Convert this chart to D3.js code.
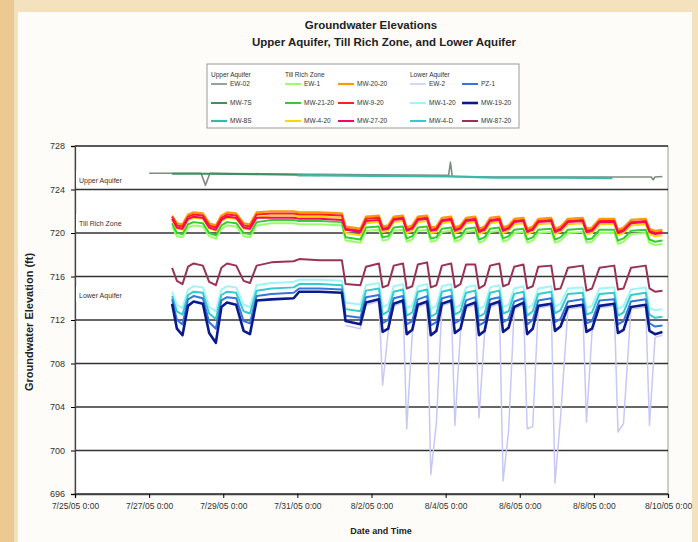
<!DOCTYPE html>
<html>
<head>
<meta charset="utf-8">
<script src="https://cdn.jsdelivr.net/npm/d3@7"></script>
<style>
  body { margin: 0; background: #f4e2bf; }
  svg { display: block; font-family: "Liberation Sans", Arial, sans-serif; }
</style>
</head>
<body>
<div id="viz"></div>
<script>
const width = 698, height = 542;
const plot = { left: 75, right: 668, top: 146, bottom: 494 };

// ---- data (days after 7/25/05 0:00, elevations in ft) ----
const xTickLabels = ["7/25/05 0:00", "7/27/05 0:00", "7/29/05 0:00", "7/31/05 0:00", "8/2/05 0:00",
  "8/4/05 0:00", "8/6/05 0:00", "8/8/05 0:00", "8/10/05 0:00"];
const yTicks = [696, 700, 704, 708, 712, 716, 720, 724, 728];

const days = [2.62, 2.75, 2.90, 3.05, 3.20, 3.45, 3.62, 3.80, 3.95, 4.10, 4.35, 4.55, 4.72, 4.90,
  5.30, 5.90, 6.05, 6.60, 7.20,
  7.30, 7.70, 7.85, 8.20, 8.30, 8.45, 8.60, 8.85, 8.95, 9.10, 9.25, 9.50,
  9.60, 9.75, 9.90, 10.15, 10.25, 10.40, 10.55, 10.80, 10.90, 11.05, 11.20, 11.45,
  11.55, 11.70, 11.85, 12.10, 12.20, 12.35, 12.50, 12.85, 12.95, 13.10, 13.30, 13.70,
  13.80, 13.95, 14.15, 14.55, 14.65, 14.80, 15.00, 15.40, 15.50, 15.65, 15.85];

// Upper Aquifer
const upperDays = [2.00, 2.62, 3.40, 3.52, 3.64, 5.00, 6.00, 6.60, 8.00, 10.08, 10.13, 10.18,
  11.30, 13.00, 14.50, 15.55, 15.60, 15.65, 15.85];
const ew02 = [725.5, 725.5, 725.5, 724.4, 725.5, 725.45, 725.4, 725.4, 725.35, 725.3, 726.5, 725.2,
  725.15, 725.15, 725.15, 725.15, 724.9, 725.15, 725.2];
const mw7s = [null, 725.45, 725.45, 725.45, 725.45, 725.4, 725.35, 725.3, null, null, null, null,
  null, null, null, null, null, null, null];
const mw8s = [null, null, null, null, null, null, 725.3, 725.3, 725.25, 725.2, 725.2, 725.2,
  725.1, 725.1, 725.05, null, null, null, null];

// Till Rich Zone
const tillOrange = [721.6, 720.9, 720.8, 721.7, 721.9, 721.8, 720.9, 720.7, 721.6, 721.9, 721.8, 720.9, 720.8, 721.9,
  722.0, 722.0, 721.9, 721.9, 721.8,
  720.6, 720.4, 721.5, 721.6, 720.6, 720.7, 721.5, 721.6, 720.5, 720.7, 721.5, 721.6,
  720.5, 720.6, 721.4, 721.5, 720.5, 720.7, 721.4, 721.5, 720.4, 720.6, 721.4, 721.5,
  720.5, 720.7, 721.3, 721.4, 720.4, 720.6, 721.3, 721.4, 720.4, 720.6, 721.3, 721.4,
  720.4, 720.5, 721.3, 721.3, 720.3, 720.5, 721.2, 721.3, 720.4, 720.2, 720.3];
const tillRed = [721.5, 720.7, 720.6, 721.5, 721.7, 721.6, 720.7, 720.5, 721.4, 721.7, 721.6, 720.7, 720.6, 721.7,
  721.8, 721.8, 721.7, 721.7, 721.6,
  720.4, 720.2, 721.3, 721.4, 720.4, 720.5, 721.3, 721.4, 720.3, 720.5, 721.3, 721.4,
  720.3, 720.4, 721.2, 721.3, 720.3, 720.5, 721.2, 721.3, 720.2, 720.4, 721.2, 721.3,
  720.3, 720.5, 721.1, 721.2, 720.2, 720.4, 721.1, 721.2, 720.2, 720.4, 721.1, 721.2,
  720.2, 720.3, 721.1, 721.1, 720.1, 720.3, 721.0, 721.1, 720.2, 720.0, 720.1];
const tillYellow = [721.2, 720.4, 720.3, 721.2, 721.4, 721.3, 720.4, 720.2, 721.1, 721.4, 721.3, 720.4, 720.3, 721.4,
  721.6, 721.6, 721.5, 721.5, 721.4,
  720.0, 719.8, 720.9, 721.0, 720.1, 720.2, 721.0, 721.1, 720.0, 720.2, 721.0, 721.1,
  720.0, 720.1, 720.9, 721.0, 720.0, 720.2, 720.9, 721.0, 719.9, 720.1, 720.9, 721.0,
  720.0, 720.2, 720.8, 720.9, 719.9, 720.1, 720.8, 720.9, 719.9, 720.1, 720.8, 720.9,
  719.9, 720.0, 720.8, 720.8, 719.8, 720.0, 720.7, 720.8, 719.9, 719.7, 719.8];
const tillPink = [721.3, 720.5, 720.4, 721.3, 721.5, 721.4, 720.5, 720.3, 721.2, 721.5, 721.4, 720.5, 720.4, 721.4,
  721.4, 721.4, 721.3, 721.3, 721.2,
  720.3, 720.1, 721.1, 721.2, 720.3, 720.4, 721.2, 721.3, 720.2, 720.4, 721.2, 721.3,
  720.2, 720.3, 721.1, 721.2, 720.2, 720.4, 721.1, 721.2, 720.1, 720.3, 721.1, 721.2,
  720.2, 720.4, 721.0, 721.1, 720.1, 720.3, 721.0, 721.1, 720.1, 720.3, 721.0, 721.1,
  720.1, 720.2, 721.0, 721.0, 720.0, 720.2, 720.9, 721.0, 720.1, 719.9, 720.0];
const tillGreen = [720.9, 720.0, 719.9, 720.8, 721.0, 720.9, 720.0, 719.8, 720.7, 721.0, 720.9, 720.0, 719.9, 721.0,
  721.2, 721.2, 721.1, 721.1, 721.0,
  719.6, 719.4, 720.5, 720.6, 719.6, 719.7, 720.5, 720.6, 719.5, 719.7, 720.5, 720.6,
  719.5, 719.6, 720.4, 720.5, 719.5, 719.7, 720.4, 720.5, 719.4, 719.6, 720.4, 720.5,
  719.5, 719.7, 720.3, 720.4, 719.4, 719.6, 720.3, 720.4, 719.4, 719.6, 720.3, 720.4,
  719.4, 719.5, 720.3, 720.3, 719.3, 719.5, 720.2, 720.3, 719.4, 719.2, 719.3];
const tillLightGreen = [720.6, 719.7, 719.6, 720.5, 720.7, 720.6, 719.7, 719.5, 720.4, 720.7, 720.6, 719.7, 719.6, 720.7,
  720.9, 720.9, 720.8, 720.8, 720.7,
  719.3, 719.1, 720.2, 720.3, 719.3, 719.4, 720.2, 720.3, 719.2, 719.4, 720.2, 720.3,
  719.2, 719.3, 720.1, 720.2, 719.2, 719.4, 720.1, 720.2, 719.1, 719.3, 720.1, 720.2,
  719.2, 719.4, 720.0, 720.1, 719.1, 719.3, 720.0, 720.1, 719.1, 719.3, 720.0, 720.1,
  719.1, 719.2, 720.0, 720.0, 719.0, 719.2, 719.9, 720.0, 719.1, 718.9, 719.0];

// Lower Aquifer
const lowerMaroon = [716.8, 715.6, 715.3, 716.9, 717.2, 717.0, 715.5, 715.2, 716.8, 717.2, 717.0, 715.6, 715.4, 717.0,
  717.3, 717.4, 717.6, 717.5, 717.5,
  715.3, 715.2, 716.9, 717.2, 715.0, 715.2, 717.0, 717.2, 714.9, 715.1, 717.1, 717.3,
  715.0, 715.2, 717.0, 717.2, 715.0, 715.3, 717.1, 717.1, 714.9, 715.2, 717.0, 717.2,
  715.1, 715.3, 716.9, 717.1, 714.9, 715.1, 716.9, 717.0, 714.8, 714.9, 716.8, 717.0,
  714.7, 714.9, 716.8, 717.0, 714.8, 714.9, 716.8, 717.0, 714.9, 714.6, 714.7];
const lowerLightCyan = [714.6, 713.4, 713.1, 714.8, 715.1, 715.0, 713.2, 712.8, 714.8, 715.1, 715.0, 713.4, 713.2, 715.2,
  715.4, 715.5, 715.7, 715.7, 715.6,
  713.6, 713.4, 715.2, 715.4, 713.2, 713.4, 715.1, 715.3, 713.1, 713.3, 715.1, 715.3,
  713.0, 713.3, 715.1, 715.3, 713.1, 713.4, 715.0, 715.2, 713.0, 713.3, 715.0, 715.2,
  713.2, 713.4, 714.9, 715.1, 713.1, 713.4, 714.9, 715.1, 713.2, 713.5, 714.9, 715.0,
  713.1, 713.3, 714.9, 715.0, 713.0, 713.3, 714.8, 715.0, 713.1, 712.9, 713.0];
const lowerCyan = [714.2, 712.8, 712.5, 714.3, 714.6, 714.5, 712.6, 712.1, 714.3, 714.6, 714.5, 712.8, 712.6, 714.7,
  714.9, 715.0, 715.3, 715.3, 715.2,
  713.0, 712.8, 714.7, 714.9, 712.5, 712.8, 714.6, 714.8, 712.4, 712.7, 714.6, 714.8,
  712.3, 712.6, 714.6, 714.8, 712.5, 712.8, 714.5, 714.7, 712.3, 712.6, 714.5, 714.7,
  712.6, 712.8, 714.4, 714.6, 712.4, 712.8, 714.4, 714.6, 712.6, 712.9, 714.4, 714.5,
  712.5, 712.7, 714.4, 714.5, 712.4, 712.7, 714.3, 714.5, 712.5, 712.2, 712.3];
const lowerBlue = [713.9, 712.0, 711.6, 713.9, 714.2, 714.0, 711.8, 711.2, 713.8, 714.1, 714.0, 711.9, 711.7, 714.2,
  714.4, 714.5, 714.9, 714.9, 714.8,
  712.4, 712.2, 714.1, 714.3, 711.7, 712.0, 714.0, 714.2, 711.6, 711.9, 713.9, 714.2,
  711.5, 711.8, 714.0, 714.2, 711.7, 712.0, 713.8, 714.1, 711.5, 711.8, 713.9, 714.1,
  711.8, 712.1, 713.7, 714.0, 711.6, 712.0, 713.8, 714.0, 711.8, 712.1, 713.7, 713.9,
  711.7, 711.9, 713.8, 713.9, 711.6, 711.9, 713.7, 713.9, 711.7, 711.4, 711.5];
const lowerNavy = [713.5, 711.2, 710.6, 713.3, 713.7, 713.5, 710.8, 709.9, 713.2, 713.6, 713.4, 711.0, 710.7, 713.8,
  713.9, 714.0, 714.6, 714.6, 714.5,
  711.9, 711.6, 713.6, 713.9, 710.9, 711.2, 713.5, 713.8, 710.7, 711.1, 713.4, 713.7,
  710.6, 711.0, 713.5, 713.8, 710.8, 711.2, 713.3, 713.6, 710.6, 711.0, 713.4, 713.7,
  710.9, 711.3, 713.2, 713.6, 710.7, 711.2, 713.3, 713.5, 711.0, 711.4, 713.2, 713.4,
  710.9, 711.2, 713.3, 713.5, 710.8, 711.1, 713.2, 713.4, 711.0, 710.7, 710.9];
const lowerLavender = [null, null, null, null, null, null, null, null, null, null, null, null, null, null,
  null, null, null, null, null,
  711.5, 711.2, 713.4, 713.7, 706.0, 710.9, 713.3, 713.6, 702.0, 710.8, 713.2, 713.5,
  697.8, 702.5, 713.3, 713.6, 702.3, 710.9, 713.1, 713.4, 703.0, 710.7, 713.2, 713.5,
  697.2, 701.8, 713.0, 713.4, 702.0, 702.2, 713.1, 713.3, 697.0, 703.0, 713.0, 713.2,
  702.6, 710.9, 713.1, 713.3, 701.7, 702.5, 713.0, 713.2, 702.3, 710.4, 710.6];

// series: name, colour, values (drawing order = list order)
const upperSeries = [
  { name: "EW-02", color: "#7f8c7f", w: 1.6, t: upperDays, v: ew02 },
  { name: "MW-7S", color: "#3f8f5f", w: 2, t: upperDays, v: mw7s },
  { name: "MW-8S", color: "#3cb8a8", w: 2.2, t: upperDays, v: mw8s }
];
const tillSeries = [
  { name: "EW-1", color: "#99ff66", w: 2, t: days, v: tillLightGreen },
  { name: "MW-21-20", color: "#33cc33", w: 2, t: days, v: tillGreen },
  { name: "MW-4-20", color: "#ffd700", w: 2, t: days, v: tillYellow },
  { name: "MW-20-20", color: "#ff9900", w: 2.2, t: days, v: tillOrange },
  { name: "MW-9-20", color: "#ff2020", w: 2, t: days, v: tillRed },
  { name: "MW-27-20", color: "#ff0066", w: 2, t: days, v: tillPink }
];
const lowerSeries = [
  { name: "EW-2", color: "#c8c8f4", w: 1.5, t: days, v: lowerLavender },
  { name: "MW-1-20", color: "#a0f4f8", w: 2, t: days, v: lowerLightCyan },
  { name: "MW-4-D", color: "#33cccc", w: 2, t: days, v: lowerCyan },
  { name: "PZ-1", color: "#3377dd", w: 2, t: days, v: lowerBlue },
  { name: "MW-19-20", color: "#0a1a8a", w: 2.6, t: days, v: lowerNavy },
  { name: "MW-87-20", color: "#993355", w: 2, t: days, v: lowerMaroon }
];

// ---- svg ----
const svg = d3.select("#viz").append("svg")
  .attr("width", width)
  .attr("height", height);

// slide background + white chart area
svg.append("rect").attr("width", width).attr("height", height).attr("fill", "#f4e2bf");
svg.append("rect").attr("x", 0).attr("y", 0).attr("width", 14).attr("height", height).attr("fill", "#ecc990");
svg.append("rect").attr("x", 18).attr("y", 12).attr("width", 674).attr("height", 530).attr("fill", "#fdfcf8");

const parseTick = d3.timeParse("%m/%d/%y %H:%M");
const t0 = parseTick(xTickLabels[0]);
const toDate = d => new Date(t0.getTime() + d * 864e5);

const x = d3.scaleTime()
  .domain([t0, parseTick(xTickLabels[xTickLabels.length - 1])])
  .range([plot.left, plot.right]);
const y = d3.scaleLinear()
  .domain([696, 728])
  .range([plot.bottom, plot.top]);

// titles
svg.append("text").attr("x", 371).attr("y", 29).attr("text-anchor", "middle")
  .attr("font-size", "11.5px").attr("font-weight", "bold").attr("fill", "#222")
  .text("Groundwater Elevations");
svg.append("text").attr("x", 384).attr("y", 46).attr("text-anchor", "middle")
  .attr("font-size", "11.5px").attr("font-weight", "bold").attr("fill", "#222")
  .text("Upper Aquifer, Till Rich Zone, and Lower Aquifer");

// plot frame
svg.append("rect")
  .attr("x", plot.left).attr("y", plot.top)
  .attr("width", plot.right - plot.left).attr("height", plot.bottom - plot.top)
  .attr("fill", "#fff").attr("stroke", "#9a9a9a").attr("stroke-width", 1);

// gridlines
svg.append("g").selectAll("line")
  .data(yTicks)
  .enter()
  .append("line")
  .attr("x1", plot.left).attr("x2", plot.right)
  .attr("y1", d => y(d)).attr("y2", d => y(d))
  .attr("stroke", "#333").attr("stroke-width", 1.4);

// Y axis
svg.append("g")
  .attr("transform", `translate(${plot.left}, 0)`)
  .call(d3.axisLeft(y).tickValues(yTicks).tickSize(4).tickPadding(6).tickFormat(d3.format("d")))
  .call(g => g.select(".domain").attr("stroke", "#444").attr("stroke-width", 1.3))
  .call(g => g.selectAll("text").attr("font-size", "9px").attr("fill", "#333")
    .attr("font-family", "Liberation Sans, Arial, sans-serif"));

// X axis
svg.append("g")
  .attr("transform", `translate(0, ${plot.bottom})`)
  .call(d3.axisBottom(x).tickValues(xTickLabels.map(parseTick)).tickSize(4).tickPadding(5)
    .tickFormat((d, i) => xTickLabels[i]))
  .call(g => g.select(".domain").attr("stroke", "#444").attr("stroke-width", 1.3))
  .call(g => g.selectAll("text").attr("font-size", "8.5px").attr("fill", "#333")
    .attr("font-family", "Liberation Sans, Arial, sans-serif"));

// axis titles
svg.append("text")
  .attr("transform", "translate(33, 322) rotate(-90)")
  .attr("text-anchor", "middle").attr("font-size", "11px").attr("font-weight", "bold").attr("fill", "#222")
  .text("Groundwater Elevation (ft)");
svg.append("text").attr("x", 381).attr("y", 534).attr("text-anchor", "middle")
  .attr("font-size", "9px").attr("font-weight", "bold").attr("fill", "#222")
  .text("Date and Time");

// zone labels (text boxes sitting on the plot)
const zoneLabels = [
  { text: "Upper Aquifer", elev: 724.9 },
  { text: "Till Rich Zone", elev: 720.9 },
  { text: "Lower Aquifer", elev: 714.3 }
];
zoneLabels.forEach(z => {
  svg.append("rect").attr("x", plot.left + 1).attr("y", y(z.elev) - 9)
    .attr("width", 62).attr("height", 16).attr("fill", "#fff");
  svg.append("text").attr("x", plot.left + 4).attr("y", y(z.elev) + 3)
    .attr("font-size", "7px").attr("fill", "#333").text(z.text);
});

// lines
const line = d3.line()
  .defined(d => d.v != null)
  .x(d => x(toDate(d.t)))
  .y(d => y(d.v));

const allSeries = [...upperSeries, ...tillSeries, ...lowerSeries];
svg.append("g").selectAll("path")
  .data(allSeries)
  .enter()
  .append("path")
  .attr("fill", "none")
  .attr("stroke", d => d.color)
  .attr("stroke-width", d => d.w)
  .attr("stroke-linejoin", "round")
  .attr("d", s => line(s.t.map((t, i) => ({ t: t, v: s.v[i] }))));

// legend
const legend = svg.append("g").attr("transform", "translate(207, 64)");
legend.append("rect").attr("width", 312).attr("height", 64)
  .attr("fill", "#fff").attr("stroke", "#9a9a9a");

const legendCols = [
  { header: "Upper Aquifer", x: 4, items: upperSeries },
  { header: "Till Rich Zone", x: 78, items: tillSeries.slice(0, 3) },
  { header: null, x: 131, items: tillSeries.slice(3) },
  { header: "Lower Aquifer", x: 203, items: lowerSeries.slice(0, 3) },
  { header: null, x: 255, items: lowerSeries.slice(3) }
];
const rowY = [22, 41, 59];
legendCols.forEach(col => {
  if (col.header) {
    legend.append("text").attr("x", col.x).attr("y", 13)
      .attr("font-size", "6.5px").attr("fill", "#333").text(col.header);
  }
  col.items.forEach((s, i) => {
    const item = legend.append("g").attr("transform", `translate(${col.x}, ${rowY[i]})`);
    item.append("line").attr("x1", 0).attr("x2", 16).attr("y1", -2).attr("y2", -2)
      .attr("stroke", s.color).attr("stroke-width", s.w);
    item.append("text").attr("x", 19).attr("y", 0)
      .attr("font-size", "6.5px").attr("fill", "#333").text(s.name);
  });
});
</script>
</body>
</html>
